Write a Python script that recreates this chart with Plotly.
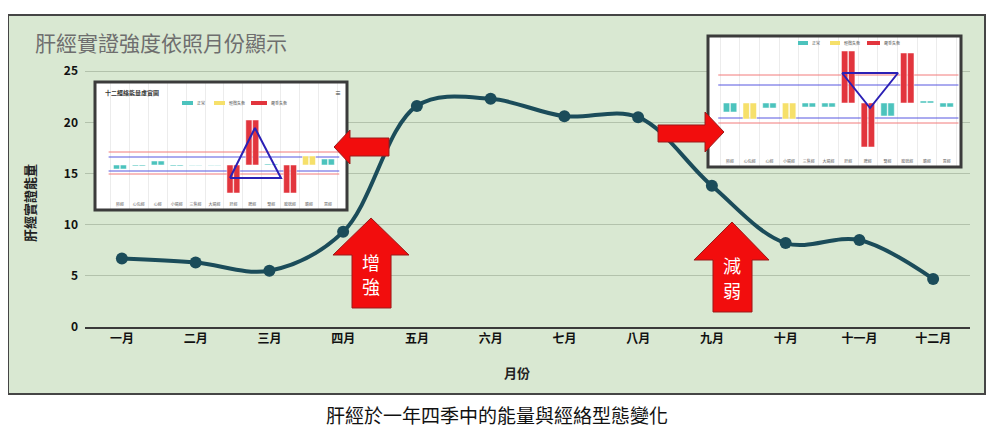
import plotly.graph_objects as go

FONT = "Noto Sans CJK TC"

# main chart data
months = ["一月", "二月", "三月", "四月", "五月", "六月",
          "七月", "八月", "九月", "十月", "十一月", "十二月"]
liver_energy = [6.7, 6.3, 5.5, 9.3, 21.6, 22.3, 20.6, 20.5, 13.8, 8.2, 8.5, 4.7]
y_ticks = [0, 5, 10, 15, 20, 25]

# the two small screenshots of the 12-meridian chart
meridians = ["肺經", "心包經", "心經", "小腸經", "三焦經", "大腸經",
             "肝經", "脾經", "腎經", "膀胱經", "膽經", "胃經"]
legend_labels = ["正常", "輕微失衡", "嚴重失衡"]

spring_bars = [-4, -1, 4, -1, -0.5, -0.5, -28, 45, 1, -28, 9, 6]
spring_level = [0, 0, 0, 0, 0, 0, 2, 2, 0, 2, 1, 0]
spring_red = [13, -9]
spring_blue = [8, -6]
spring_tri_x = [6.82, 8.14, 9.52, 6.82]
spring_tri_y = [-13, 37, -13, -13]

autumn_bars = [-9, -16, -5, -16, -4, -4, 52, -44, -13, 50, 2, -4]
autumn_level = [0, 1, 0, 1, 0, 0, 2, 2, 0, 2, 0, 0]
autumn_red = [28, -20]
autumn_blue = [18, -15]
autumn_tri_x = [6.69, 9.53, 8.11, 6.69]
autumn_tri_y = [30, 30, -5, 30]

palette = ["#4cc3bd", "#f6e06a", "#e2353d"]
line_col = "#1b4c5a"

# page has an 8px body margin, so the figure is a bit smaller than the window
OFF = 8
W, H = 1000 - OFF, 440 - OFF
X0, X1, Y0, Y1 = 85, 970, 20, 327   # plot area in window pixels


def px(x):
    return (x - X0) / (X1 - X0)


def py(y):
    return (Y1 - y) / (Y1 - Y0)


def path(points):
    return "M " + " L ".join(f"{px(x):.4f},{py(y):.4f}" for x, y in points) + " Z"


fig = go.Figure()
fig.add_trace(go.Scatter(
    x=months, y=liver_energy, mode="lines+markers",
    line=dict(color=line_col, width=4, shape="spline"),
    marker=dict(size=12, color=line_col),
    hoverinfo="x+y"))

shapes = [dict(type="rect", xref="paper", yref="paper", layer="below",
               x0=px(8), x1=px(985), y0=py(394), y1=py(15),
               fillcolor="#d9e8d2", line=dict(color="#454545", width=2))]
annotations = []


def add_inset(n, bars, level, red, blue, tri_x, tri_y, box, xr, yr, legend_at):
    xa, ya = f"x{n}", f"y{n}"
    for side in range(2):
        fig.add_trace(go.Bar(
            x=list(range(1, 13)), y=bars, xaxis=xa, yaxis=ya,
            marker=dict(color=[palette[v] for v in level],
                        line=dict(color="white", width=0.5)),
            hoverinfo="skip"))
    fig.add_trace(go.Scatter(
        x=tri_x, y=tri_y, xaxis=xa, yaxis=ya, mode="lines",
        line=dict(color="#2b20b5", width=2), hoverinfo="skip"))

    x0, y0, x1, y1 = box
    fig.update_layout({
        f"xaxis{n}": dict(domain=[px(x0), px(x1)], anchor=ya, range=xr,
                          tickvals=list(range(1, 13)), ticktext=meridians,
                          ticklabelposition="inside", ticks="",
                          tickfont=dict(size=4, color="#666", family=FONT),
                          showgrid=False, zeroline=False, fixedrange=True,
                          minor=dict(tickmode="array",
                                     tickvals=[i + 0.5 for i in range(13)],
                                     showgrid=True, gridcolor="#ececec",
                                     gridwidth=0.6)),
        f"yaxis{n}": dict(domain=[py(y1), py(y0)], anchor=xa, range=yr,
                          showgrid=False, zeroline=False,
                          showticklabels=False, fixedrange=True),
    })
    shapes.append(dict(type="rect", xref=xa, yref=ya, layer="below",
                       x0=xr[0], x1=xr[1], y0=yr[0], y1=yr[1],
                       fillcolor="white", line=dict(width=0)))
    for v in red:
        shapes.append(dict(type="line", xref=xa, yref=ya, layer="between",
                           x0=0.4, x1=12.6, y0=v, y1=v,
                           line=dict(color="#f27b7b", width=1)))
    for v in blue:
        shapes.append(dict(type="line", xref=xa, yref=ya, layer="between",
                           x0=0.4, x1=12.6, y0=v, y1=v,
                           line=dict(color="#5757e0", width=1)))
    shapes.append(dict(type="rect", xref="paper", yref="paper", layer="above",
                       x0=px(x0), x1=px(x1), y0=py(y1), y1=py(y0),
                       line=dict(color="#3b3b3b", width=3)))
    # tiny legend
    lx, ly, sw, tw = legend_at
    for i, lab in enumerate(legend_labels):
        shapes.append(dict(type="rect", xref="paper", yref="paper", layer="above",
                           x0=px(lx), x1=px(lx + sw[i]), y0=py(ly + 2), y1=py(ly - 2),
                           fillcolor=palette[i], line=dict(width=0)))
        annotations.append(dict(xref="paper", yref="paper", x=px(lx + sw[i] + 1.5),
                                y=py(ly), text=lab, showarrow=False,
                                xanchor="left", yanchor="middle",
                                font=dict(size=4, color="#555", family=FONT)))
        lx += sw[i] + tw[i]


add_inset(2, spring_bars, spring_level, spring_red, spring_blue,
          spring_tri_x, spring_tri_y, (95, 82, 347, 210),
          [-0.32, 13.01], [-45, 83], (182, 103, [11, 11, 16], [21, 26, 0]))
add_inset(3, autumn_bars, autumn_level, autumn_red, autumn_blue,
          autumn_tri_x, autumn_tri_y, (708, 36, 961, 167),
          [-0.12, 12.73], [-64, 67], (798, 43, [10, 10, 13], [22, 27, 0]))

annotations += [
    dict(x=px(103), y=py(92), text="<b>十二經絡能量虛實圖</b>",
         font=dict(size=6, color="#333", family=FONT)),
    dict(x=px(333), y=py(92), text="<b>≡</b>",
         font=dict(size=6, color="#333", family=FONT)),
]
for a in annotations[-2:]:
    a.update(xref="paper", yref="paper", showarrow=False,
             xanchor="left", yanchor="middle")

# red arrows
red_arrows = [
    [(334, 147), (350, 130), (350, 138), (389, 138), (389, 156), (350, 156), (350, 164)],
    [(658, 125), (705, 125), (705, 112), (724, 132), (705, 152), (705, 142), (658, 142)],
    [(371, 218), (409, 255), (391, 255), (391, 308), (352, 308), (352, 255), (333, 255)],
    [(732, 222), (769, 260), (752, 260), (752, 312), (713, 312), (713, 260), (694, 260)],
]
for pts in red_arrows:
    shapes.append(dict(type="path", xref="paper", yref="paper", layer="above",
                       path=path(pts), fillcolor="#f20d0d",
                       line=dict(color="#9c1a1a", width=1)))

text_items = [
    ("肝經實證強度依照月份顯示", 33, 42, 21, "#6e6e6e", "left", 0),
    ("<b>肝經實證能量</b>", 29, 203, 13, "#222", "center", -90),
    ("<b>月份</b>", 517, 372, 13, "#222", "center", 0),
    ("增", 371, 262, 18, "white", "center", 0),
    ("強", 371, 286, 18, "white", "center", 0),
    ("減", 732, 265, 18, "white", "center", 0),
    ("弱", 732, 290, 18, "white", "center", 0),
    ("肝經於一年四季中的能量與經絡型態變化", 497, 414, 19, "#111", "center", 0),
]
for text, x, y, size, color, anchor, angle in text_items:
    annotations.append(dict(xref="paper", yref="paper", x=px(x), y=py(y),
                            text=text, showarrow=False, textangle=angle,
                            xanchor=anchor, yanchor="middle",
                            font=dict(size=size, color=color, family=FONT)))

fig.update_layout(
    width=W, height=H,
    margin=dict(l=X0 - OFF, r=W - (X1 - OFF), t=Y0 - OFF, b=H - (Y1 - OFF)),
    paper_bgcolor="white", plot_bgcolor="rgba(0,0,0,0)",
    showlegend=False, barmode="group", bargap=0.28, bargroupgap=0.1,
    font=dict(family=FONT),
    xaxis=dict(domain=[0, 1], type="category", range=[-0.5, 11.5],
               showgrid=False, zeroline=False, ticks="",
               showline=True, linecolor="#3a3a3a", linewidth=2,
               tickfont=dict(size=12, color="#111", family=FONT, weight="bold"),
               fixedrange=True),
    yaxis=dict(domain=[0, 1], range=[0, 30], tickvals=y_ticks,
               gridcolor="#b3c2ac", gridwidth=1, zeroline=False,
               ticklabelstandoff=6,
               tickfont=dict(size=12, color="#111", family=FONT, weight="bold"),
               fixedrange=True),
    shapes=shapes,
    annotations=annotations,
)

fig.write_html("out.html")
